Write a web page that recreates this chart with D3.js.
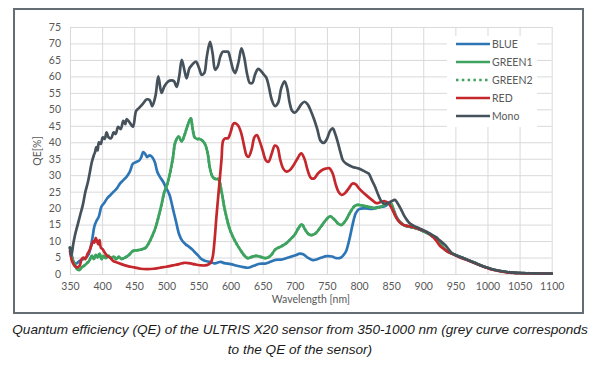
<!DOCTYPE html>
<html><head><meta charset="utf-8">
<script src="https://cdn.jsdelivr.net/npm/d3@7/dist/d3.min.js"></script>
<style>
html,body{margin:0;padding:0;background:#fff;}
svg{display:block;}
</style></head>
<body>
<svg id="c" width="600" height="366"></svg>
<script>
// ---- DATA ----
const xTicks = [350,400,450,500,550,600,650,700,750,800,850,900,950,1000,1050,1100];
const yTicks = [0,5,10,15,20,25,30,35,40,45,50,55,60,65,70,75];
const seriesNames = ["BLUE","GREEN1","GREEN2","RED","Mono"];

const tail = [[870,14.8],[880,14.3],[890,13.8],[900,13],[910,12],[920,10.5],[925,9.5],[930,8.3],[935,7.2],[940,6.6],[950,5.8],[960,5.0],[970,4.2],[980,3.4],[990,2.6],[1000,1.9],[1010,1.3],[1020,0.9],[1030,0.6],[1040,0.4],[1050,0.3],[1075,0.2],[1100,0.1]];

const blueData = [[350,8],[353,5.5],[356,3.5],[360,3.2],[365,4],[370,4.5],[375,5],[379,6],[382,8],[385,11],[388,14.5],[391,16],[395,17.5],[399,20.5],[403,21.5],[408,23],[413,24],[418,25],[423,26],[428,27.5],[433,28.5],[438,29.5],[443,31],[448,33.5],[453,34],[458,34.5],[461,35.5],[464,37],[467,36.5],[470,35.5],[474,36],[478,35.5],[482,34],[486,31],[490,29.5],[495,28],[500,26],[505,24],[510,20],[515,16],[520,12],[525,10],[530,9],[535,8.3],[540,7.5],[545,6.5],[550,5.5],[555,4.5],[560,4],[565,3.8],[570,3.5],[575,3.2],[580,3.5],[585,3.7],[590,3.3],[600,3],[610,2.5],[620,2.1],[627,1.9],[635,2.4],[645,3.1],[655,3.2],[663,3.8],[670,4.3],[680,4.4],[690,5],[700,5.6],[708,6.2],[713,6.0],[720,5.0],[728,4.2],[735,4.5],[742,5.0],[750,5.4],[758,5.3],[765,4.8],[772,5],[776,5.8],[780,7],[785,10.5],[790,15],[795,18.5],[800,19.7],[810,19.9],[820,19.8],[830,20.3],[840,20.6],[848,21.5],[853,20],[858,17.5],[863,16]].concat(tail);

const green1Data = [[350,8],[353,5],[357,3],[361,1.5],[365,1.2],[368,2],[372,2.5],[376,3.2],[380,4],[384,5.5],[387,4.5],[390,5.8],[393,5],[396,6.2],[399,4.5],[402,5.5],[406,4.8],[410,5.5],[414,4.8],[418,5.3],[422,4.5],[426,5.2],[430,4.6],[436,5],[442,5.8],[448,7],[455,7.2],[462,7.5],[468,8],[473,9.5],[478,11.5],[483,14],[488,17.5],[493,21.5],[497,25],[501,27],[505,30],[510,35],[514,40],[519,41.7],[524,40.3],[528,42],[533,45],[538,47.3],[541,44],[544,41.5],[548,41],[552,41],[556,40.5],[560,39.5],[564,37],[568,32],[572,29.5],[577,28.8],[581,28.8],[586,25],[590,20.5],[594,17],[598,14],[602,12],[607,10],[612,8.3],[617,6.8],[622,5.5],[627,4.8],[633,5.2],[640,5.5],[647,5.2],[655,4.8],[662,5.5],[670,7.5],[678,8.3],[686,9.2],[693,10.5],[700,12],[706,14],[711,15.1],[716,13.5],[721,12.2],[726,11.8],[732,12.3],[740,14.2],[748,16.3],[755,17.5],[762,16.5],[768,15.2],[773,14.9],[780,16.5],[787,19],[793,20.6],[798,21],[805,20.8],[815,20.4],[825,20],[835,20.5],[845,21.5],[850,21.3],[855,18.5],[860,16.5],[866,15.4]].concat(tail);

const green2Data = green1Data;

const redData = [[350,7],[353,4],[357,2.5],[361,2],[365,2.5],[368,4.5],[371,5],[374,4.5],[377,6],[380,7],[383,8.5],[386,10],[388,9.5],[390,11],[392,10],[394,9],[396,10.3],[398,8],[401,7.5],[404,6.5],[408,5.5],[412,5],[417,4],[423,3.5],[430,3],[440,2.4],[450,2.0],[460,1.6],[470,1.5],[480,1.6],[490,1.9],[500,2.2],[510,2.6],[520,3],[528,3.4],[535,3.3],[545,2.9],[555,2.6],[563,2.7],[569,3.4],[572,5],[575,10],[578,17.4],[581,24],[583.5,29.5],[586,35],[588.5,40.5],[592,41.2],[596,41.2],[600,43],[604,45.5],[607,45.8],[612,45],[617,42.5],[621,39],[625,36],[628,35.6],[633,38],[637,41.5],[641,42.2],[645,40.5],[650,37.5],[655,34.5],[659,34.1],[664,36.5],[669,39],[673,38.5],[677,35],[682,32],[687,31.1],[692,31.5],[698,33],[704,35],[710,36.6],[715,35],[720,31.5],[725,29.2],[730,29],[736,30.5],[742,31.5],[748,32],[754,32.1],[759,30.5],[764,27],[768,25],[773,24],[778,24.5],[784,26],[790,27.5],[795,27.2],[800,26],[806,24.8],[812,23.8],[820,22.5],[827,21.5],[833,21.8],[840,22.1],[846,21.5],[852,19.5],[857,17.5],[862,16],[868,15],[875,14.6],[885,14.2],[895,13.5],[905,12.8],[915,11.3],[920,10.2],[925,8.8],[930,7.9],[935,7.2],[940,6.6],[950,5.7],[960,4.8],[970,4.1],[980,3.3],[990,2.5],[1000,1.8],[1010,1.2],[1020,0.8],[1030,0.5],[1040,0.35],[1050,0.25],[1075,0.15],[1100,0.1]];

const monoData = [[350,8],[352,5.5],[355,9],[358,12],[362,15],[366,18],[370,21],[374,25],[378,28],[381,31],[384,34],[387,36],[389,37],[391,38.5],[393,37.5],[395,40],[398,39.5],[401,41.5],[404,41],[407,43],[410,41.5],[414,41.2],[418,43],[421,42.5],[425,44.7],[429,44],[433,46.5],[436,45.5],[438,47],[443,46],[448,44.7],[453,49.5],[458,50.5],[464,51.8],[469,53],[474,52.8],[478,51],[483,54],[487.5,60],[492.5,55],[497,57],[503,58.5],[508,58.8],[512,58.5],[516,56.8],[520,60],[524,65],[528,62],[531.5,59.4],[536,62.5],[540,63.5],[546,64.5],[551,62.5],[555,60.5],[559,61],[563,66],[568,70.5],[572,67],[576,62],[580,63],[584,66],[588,67.5],[592,67.5],[596,67.5],[600,65],[604,62],[607,61],[612,64],[617,68.5],[621,66],[626,60.5],[630,58],[634,58],[638,60.5],[643,62.3],[648,61.5],[652,60.5],[656,59.5],[660,56.5],[664,53],[669,51],[674,52],[679,56.5],[684,58.5],[688,56.5],[692,52],[696,49.5],[700,49],[705,50],[710,51.5],[715,52.3],[720,51.5],[725,49.5],[730,47],[735,44],[740,40.5],[745,39.8],[750,41],[755,43.5],[759,44.2],[763,42.5],[767,40],[771,37],[775,34.5],[780,33.5],[790,32.5],[800,32],[810,31],[815,30.5],[820,28.5],[825,26.5],[830,24],[835,22],[840,21.3],[845,21.5],[850,22],[856,22.5],[860,21.5],[865,19.8],[870,17.8],[875,16.3],[880,15.2],[890,14.2],[900,13.3],[910,12.3],[920,11.2],[925,10.3],[930,9.5],[935,8.6],[940,7.4],[945,6.3],[950,5.8],[960,5.0],[970,4.2],[980,3.4],[990,2.6],[1000,1.9],[1010,1.3],[1020,0.9],[1030,0.6],[1040,0.4],[1050,0.3],[1075,0.2],[1100,0.1]];

// ---- DRAW ----
const svg = d3.select("#c");
const L = 70, R = 551.7, T = 27, B = 274;
const x = d3.scaleLinear().domain([350,1100]).range([L,R]);
const y = d3.scaleLinear().domain([0,75]).range([B,T]);

svg.append("rect").attr("x",14).attr("y",9).attr("width",569).attr("height",304)
  .attr("fill","#fff").attr("stroke","#646d73").attr("stroke-width",2);

const tickFont = "Lato, 'Open Sans', sans-serif";
// grid
const gx = svg.append("g").attr("transform",`translate(0,${B})`)
  .call(d3.axisBottom(x).tickValues(xTicks).tickSize(-(B-T)).tickPadding(9).tickFormat(d3.format("d")));
const gy = svg.append("g").attr("transform",`translate(${L},0)`)
  .call(d3.axisLeft(y).tickValues(yTicks).tickSize(-(R-L)).tickPadding(9).tickFormat(d3.format("d")));
[gx,gy].forEach(g=>{
  g.select(".domain").remove();
  g.selectAll(".tick line").attr("stroke","#d9d9d9").attr("stroke-width",1);
  g.selectAll(".tick text").attr("fill","#595959").style("font-family",tickFont).style("font-size","10.5px");
});

const colors = {BLUE:"#2e75b6",GREEN1:"#3da35f",GREEN2:"#3da35f",RED:"#c5282c",Mono:"#46525b"};
const dataBy = {BLUE:blueData,GREEN1:green1Data,GREEN2:green2Data,RED:redData,Mono:monoData};
const line = d3.line().x(d=>x(d[0])).y(d=>y(d[1])).curve(d3.curveCatmullRom.alpha(0.5));

seriesNames.forEach(n=>{
  svg.append("path").datum(dataBy[n]).attr("d",line).attr("fill","none")
    .attr("stroke",colors[n]).attr("stroke-width",2.7)
    .attr("stroke-linejoin","round").attr("stroke-linecap","round")
    .attr("stroke-dasharray", n==="GREEN2" ? "1.5,3" : null);
});

// legend
const lg = svg.append("g");
lg.append("rect").attr("x",447).attr("y",36).attr("width",90).attr("height",91).attr("fill","#fff");
seriesNames.forEach((n,i)=>{
  const yy = 44 + i*18;
  lg.append("line").attr("x1",456).attr("x2",490).attr("y1",yy).attr("y2",yy)
    .attr("stroke",colors[n]).attr("stroke-width",2.5)
    .attr("stroke-dasharray", n==="GREEN2" ? "2.5,3.3" : null);
  lg.append("text").attr("x",492).attr("y",yy).attr("dy","0.35em").text(n)
    .attr("fill","#595959").style("font-family",tickFont).style("font-size","10.5px");
});

// axis titles
svg.append("text").attr("transform",`translate(41,151) rotate(-90)`).attr("text-anchor","middle")
  .attr("fill","#595959").style("font-family",tickFont).style("font-size","10.5px").text("QE[%]");
svg.append("text").attr("x",(L+R)/2).attr("y",303).attr("text-anchor","middle")
  .attr("fill","#595959").style("font-family",tickFont).style("font-size","10.5px").text("Wavelength [nm]");

// caption
const cap = ["Quantum efficiency (QE) of the ULTRIS X20 sensor from 350-1000 nm (grey curve corresponds","to the QE of the sensor)"];
cap.forEach((t,i)=>{
  svg.append("text").attr("x",300).attr("y",334+i*20).attr("text-anchor","middle")
    .attr("fill","#1a1a1a").style("font-family","'Liberation Sans', Arial, sans-serif")
    .style("font-style","italic").style("font-size","13.6px").text(t);
});
</script>
</body></html>
